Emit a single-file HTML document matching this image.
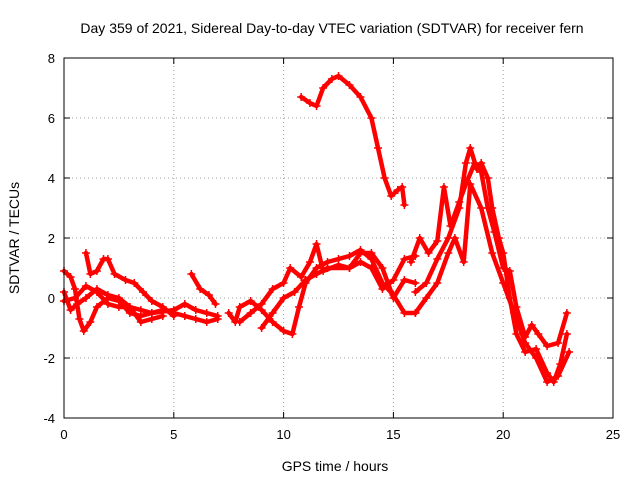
<!DOCTYPE html>
<html><head><meta charset="utf-8"><style>
body{margin:0;background:#fff;}
svg{display:block;font-family:"Liberation Sans",sans-serif;}
</style></head><body>
<svg id="chart" width="640" height="480" viewBox="0 0 640 480">
<text x="332" y="33" font-size="14" text-anchor="middle">Day 359 of 2021, Sidereal Day-to-day VTEC variation (SDTVAR) for receiver fern</text>
<text x="335" y="471" font-size="14" text-anchor="middle">GPS time / hours</text>
<text transform="translate(19,238) rotate(-90)" font-size="14" text-anchor="middle">SDTVAR / TECUs</text>
<g id="grid"></g>
<g id="ticks"></g>
<g id="series"></g>
<rect x="64" y="58" width="549" height="360" fill="none" stroke="#000" stroke-width="1"/>
</svg>
<script>
const xTicks=[0,5,10,15,20,25];
const yTicks=[-4,-2,0,2,4,6,8];
const track1=[[0,0.9],[0.3,0.7],[0.5,0.3],[0.7,-0.7],[0.9,-1.1],[1.2,-0.8],[1.5,-0.3],[2,0],[2.5,-0.1],[3,-0.5],[3.5,-0.6],[4,-0.5],[4.5,-0.4],[5,-0.5],[5.5,-0.6],[6,-0.7],[6.5,-0.8],[7,-0.7]];
const track2=[[0,-0.1],[0.5,0],[1,0.4],[1.5,0.2],[2,-0.2],[2.5,-0.3],[3,-0.3],[3.5,-0.4],[4,-0.5],[5,-0.4],[5.5,-0.2],[6,-0.4],[6.5,-0.5],[7,-0.6]];
const track3=[[1,1.5],[1.2,0.8],[1.5,0.9],[1.8,1.3],[2,1.3],[2.3,0.8],[2.8,0.6],[3.2,0.5],[3.6,0.2],[4,-0.1],[4.5,-0.3],[5,-0.6]];
const track4=[[0,0.2],[0.3,-0.4],[0.6,-0.2],[1,0],[1.5,0.3],[2,0.1],[2.5,0],[3,-0.3],[3.5,-0.8],[4,-0.7],[4.5,-0.6]];
const track5=[[5.8,0.8],[6.2,0.3],[6.6,0.1],[6.9,-0.2]];
const track6=[[7.5,-0.5],[7.8,-0.8],[8,-0.3],[8.5,-0.1],[9,-0.4],[9.5,-0.8],[10,-1.1],[10.4,-1.2],[10.7,-0.3],[11,0.5],[11.5,1.0],[12,1.2],[12.5,1.3],[13,1.4],[13.5,1.6],[14,1.3],[14.5,0.5],[15,0.1],[15.5,-0.5],[16,-0.5]];
const track7=[[8,-0.8],[8.5,-0.5],[9,-0.2],[9.5,0.3],[10,0.5],[10.3,1.0],[10.8,0.7],[11.2,1.2],[11.5,1.8],[11.8,0.9],[12.5,1.1],[13,1.0],[13.5,1.2],[14,1.0],[14.5,0.3],[15,0.6],[15.5,1.3],[16,1.4]];
const track8=[[9,-1],[9.5,-0.5],[10,0],[10.5,0.2],[11,0.6],[11.5,0.8],[12,1.0],[13,1.0],[13.5,1.5],[14,1.5],[14.5,1.0],[15,0],[15.5,0.6],[16,0.5]];
const track9=[[10.8,6.7],[11.2,6.5],[11.5,6.4],[11.8,7.0],[12.2,7.3],[12.5,7.4],[13,7.1],[13.5,6.7],[14,6.0],[14.3,5.0],[14.6,4.0],[14.9,3.4],[15.2,3.6],[15.4,3.7],[15.5,3.1]];
const track10=[[16,0.2],[16.5,0.5],[17,1.3],[17.5,2.0],[18,3.0],[18.3,4.5],[18.5,5.0],[18.8,4.3],[19,4.5],[19.3,4.0],[19.5,3.0],[19.8,2.0],[20,1.5],[20.3,0],[20.6,-1.2],[21,-1.8],[21.5,-1.7],[22,-2.5],[22.3,-2.8],[22.6,-2.2],[22.9,-1.2]];
const track11=[[15.8,1.2],[16.2,2.0],[16.6,1.5],[17,1.9],[17.3,3.7],[17.6,2.4],[18,3.2],[18.3,3.8],[18.7,4.5],[19,4.2],[19.3,3.0],[19.6,2.2],[20,1.0],[20.3,0.9],[20.6,-0.3],[21,-1.3],[21.3,-0.9],[21.6,-1.2],[22,-1.6],[22.5,-1.5],[22.9,-0.5]];
const track12=[[16,-0.5],[16.5,0],[17,0.5],[17.5,1.5],[17.8,2.0],[18.2,1.2],[18.5,3.8],[19,3.0],[19.5,1.5],[20,0.5],[20.5,-0.5],[21,-1.5],[21.5,-2.0],[22,-2.8],[22.5,-2.6],[23,-1.8]];
const tracks=[track1,track2,track3,track4,track5,track6,track7,track8,track9,track10,track11,track12];

const X0=64,X1=613,Y0=418,Y1=58;
function sx(v){return X0+(v-0)/(25-0)*(X1-X0);}
function sy(v){return Y0-(v+4)/(12)*(Y0-Y1);}
const NS='http://www.w3.org/2000/svg';
function mk(t,a,p){const e=document.createElementNS(NS,t);for(const k in a)e.setAttribute(k,a[k]);p.appendChild(e);return e;}
const grid=document.getElementById('grid'),ticks=document.getElementById('ticks'),series=document.getElementById('series');
xTicks.forEach(v=>{
  const x=sx(v);
  if(v>0&&v<25){const g=mk('line',{x1:x,x2:x,y1:Y1,y2:Y0,stroke:'#a0a0a0','stroke-dasharray':'1,3'},grid);
  
  }
  mk('line',{x1:x,x2:x,y1:Y0,y2:Y0-6,stroke:'#000'},ticks);
  mk('line',{x1:x,x2:x,y1:Y1,y2:Y1+6,stroke:'#000'},ticks);
  const t=mk('text',{x:x,y:Y0+21,'font-size':13,'text-anchor':'middle'},ticks);t.textContent=v;
  
  
});
yTicks.forEach(v=>{
  const y=sy(v);
  if(v>-4&&v<8){const g=mk('line',{x1:X0,x2:X1,y1:y,y2:y,stroke:'#a0a0a0','stroke-dasharray':'1,3'},grid);
  
  }
  mk('line',{x1:X0,x2:X0+6,y1:y,y2:y,stroke:'#000'},ticks);
  mk('line',{x1:X1,x2:X1-6,y1:y,y2:y,stroke:'#000'},ticks);
  const t=mk('text',{x:X0-9,y:y+5,'font-size':13,'text-anchor':'end'},ticks);t.textContent=v;
  
  
});
tracks.forEach((tr,i)=>{
  const d=tr.map((p,j)=>(j?'L':'M')+sx(p[0]).toFixed(1)+','+sy(p[1]).toFixed(1)).join('');
  const path=mk('path',{d:d,fill:'none',stroke:'#f00','stroke-width':4.5,'stroke-linejoin':'round','stroke-linecap':'round'},series);
  
  
  tr.forEach(p=>{
    const x=sx(p[0]),y=sy(p[1]);
    const m=mk('path',{d:`M${x-4},${y}h8M${x},${y-4}v8`,stroke:'#f00','stroke-width':1.5},series);
    
    
  });
});
</script>
</body></html>
